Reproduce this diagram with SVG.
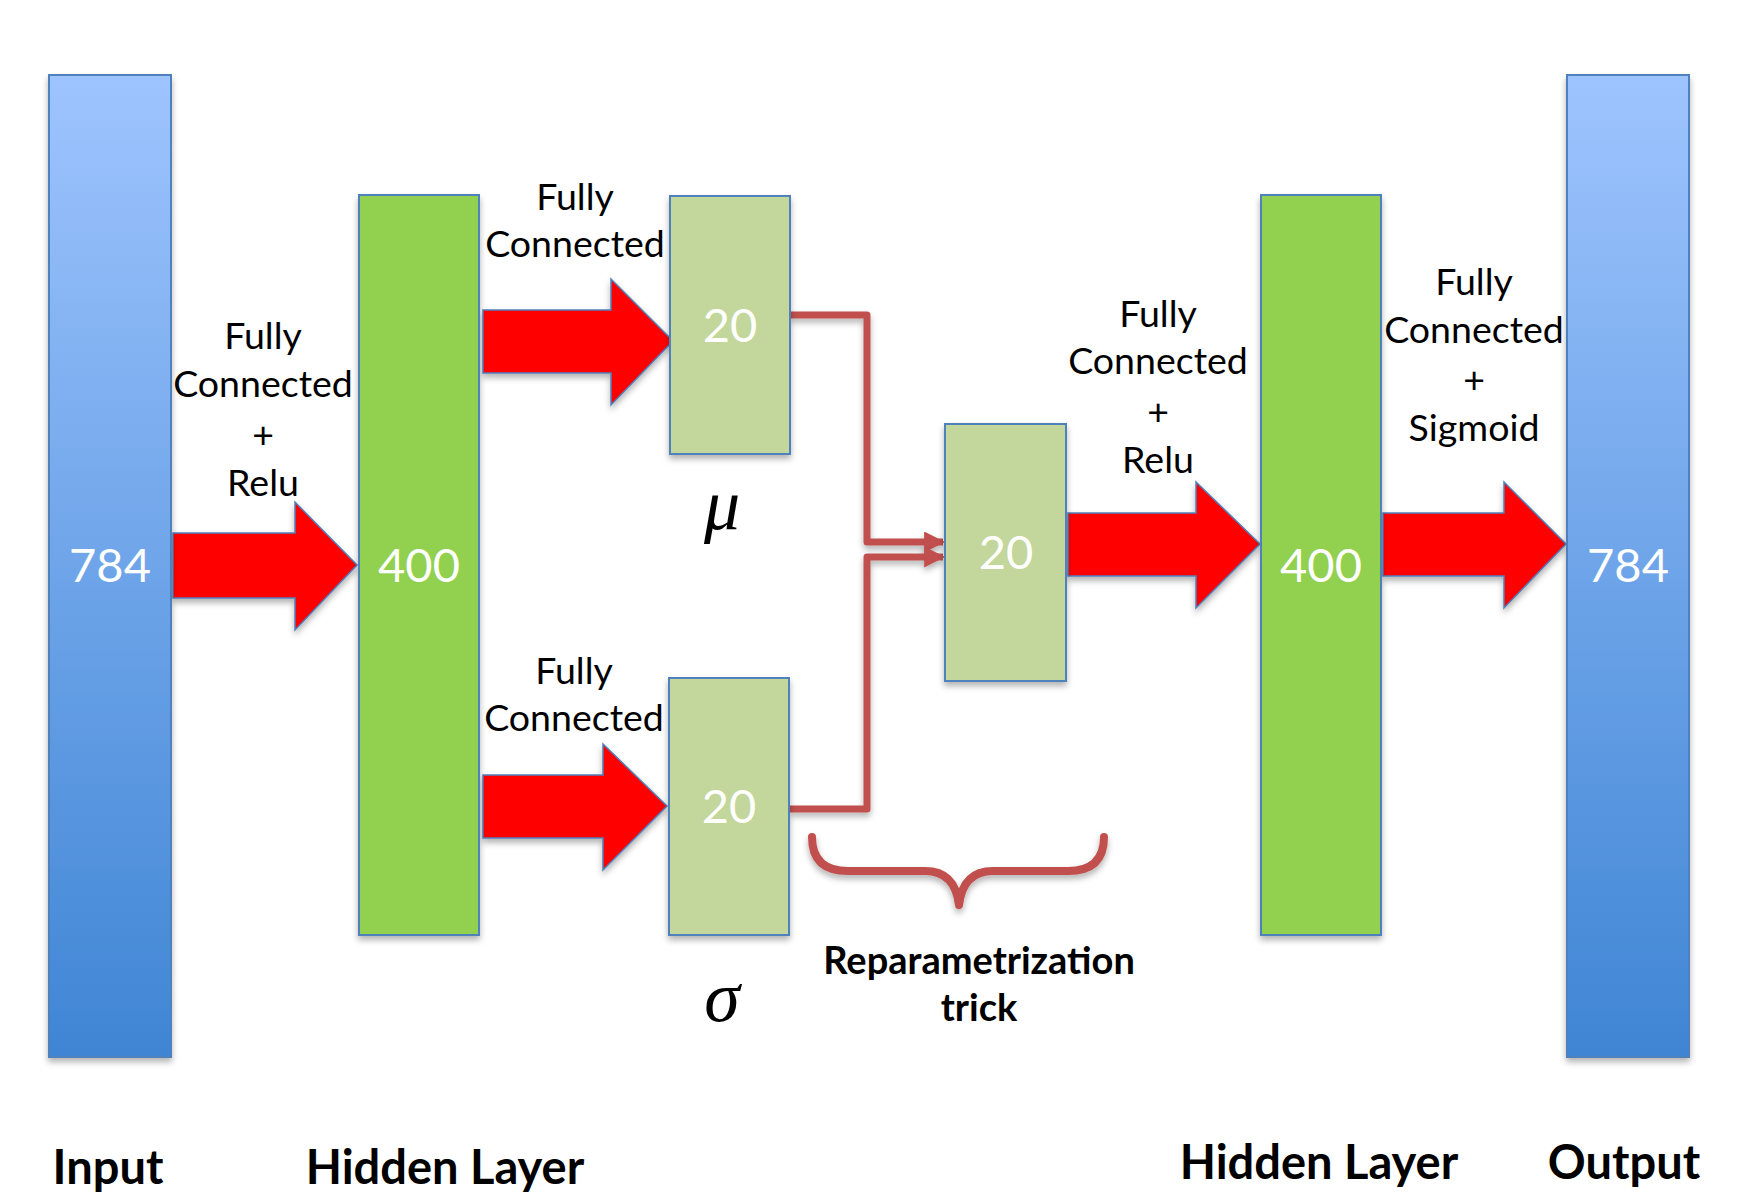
<svg xmlns="http://www.w3.org/2000/svg" width="1748" height="1198" viewBox="0 0 1748 1198">
<style>
.lbl{font-family:Lato,"Liberation Sans",sans-serif;font-size:37.5px;fill:#000;text-anchor:middle}
.num{font-family:Lato,"Liberation Sans",sans-serif;font-size:47px;fill:#fff;text-anchor:middle}
.bold{font-family:Lato,"Liberation Sans",sans-serif;font-weight:bold;fill:#000;text-anchor:middle}
.greek{font-family:"Liberation Serif",serif;font-style:italic;font-size:72px;fill:#000;text-anchor:middle}
.bar{stroke:#4F81BD;stroke-width:2;filter:url(#sh)}
.arrow{fill:#FF0000;stroke:#4F81BD;stroke-width:1.5;filter:url(#sh)}
.conn{fill:none;stroke:#C0504D;stroke-width:7;stroke-linejoin:round;filter:url(#sh)}
</style>
<defs>
<linearGradient id="blue" x1="0" y1="0" x2="0" y2="1">
<stop offset="0" stop-color="#9EC4FE"/>
<stop offset="1" stop-color="#3F85D4"/>
</linearGradient>
<filter id="sh" x="-20%" y="-20%" width="140%" height="140%">
<feDropShadow dx="0" dy="4" stdDeviation="3" flood-color="#000" flood-opacity="0.3"/>
</filter>
<marker id="ah" viewBox="0 0 10 10" refX="9" refY="5" markerWidth="4" markerHeight="3" markerUnits="strokeWidth" orient="auto">
<path d="M0,0 L10,5 L0,10 z" fill="#C0504D"/>
</marker>
</defs>
<rect width="1748" height="1198" fill="#fff"/>

<g id="connectors">
<polygon class="arrow" points="173,533 295,533 295,502 357,565 295,630 295,598 173,598"/>
<polygon class="arrow" points="483,310 611,310 611,279 673,341 611,405 611,373 483,373"/>
<polygon class="arrow" points="483,775 603,775 603,744 667,806 603,870 603,838 483,838"/>
<polygon class="arrow" points="1068,513 1196,513 1196,482 1260,544 1196,608 1196,576 1068,576"/>
<polygon class="arrow" points="1383,513 1504,513 1504,482 1566,544 1504,608 1504,576 1383,576"/>
<path class="conn" d="M790,315 L867,315 L867,542 L943,542" marker-end="url(#ah)"/>
<path class="conn" d="M790,809 L867,809 L867,557 L943,557" marker-end="url(#ah)"/>
<path d="M812,837 Q812,871 848,871 L925,871 Q955,871 959,905 Q963,871 993,871 L1068,871 Q1104,871 1104,837" fill="none" stroke="#C0504D" stroke-width="8" stroke-linecap="round" stroke-linejoin="round" filter="url(#sh)"/>
</g>

<g id="input">
<rect class="bar" x="49" y="75" width="122" height="982" fill="url(#blue)"/>
<text class="num" x="110" y="582">784</text>
</g>
<g id="hidden1">
<rect class="bar" x="359" y="195" width="120" height="740" fill="#92D050"/>
<text class="num" x="419" y="582">400</text>
</g>
<g id="mu">
<rect class="bar" x="670" y="196" width="120" height="258" fill="#C3D69B"/>
<text class="num" x="730" y="342">20</text>
</g>
<g id="sigma">
<rect class="bar" x="669" y="678" width="120" height="257" fill="#C3D69B"/>
<text class="num" x="729" y="823">20</text>
</g>
<g id="z">
<rect class="bar" x="945" y="424" width="121" height="257" fill="#C3D69B"/>
<text class="num" x="1006" y="569">20</text>
</g>
<g id="hidden2">
<rect class="bar" x="1261" y="195" width="120" height="740" fill="#92D050"/>
<text class="num" x="1321" y="582">400</text>
</g>
<g id="output">
<rect class="bar" x="1567" y="75" width="122" height="982" fill="url(#blue)"/>
<text class="num" x="1628" y="582">784</text>
</g>

<g id="labels">
<text class="lbl" x="263" y="349">Fully</text>
<text class="lbl" x="263" y="397">Connected</text>
<text class="lbl" x="263" y="448">+</text>
<text class="lbl" x="263" y="496">Relu</text>

<text class="lbl" x="575" y="210">Fully</text>
<text class="lbl" x="575" y="257">Connected</text>

<text class="lbl" x="574" y="684">Fully</text>
<text class="lbl" x="574" y="731">Connected</text>

<text class="lbl" x="1158" y="327">Fully</text>
<text class="lbl" x="1158" y="374">Connected</text>
<text class="lbl" x="1158" y="425">+</text>
<text class="lbl" x="1158" y="473">Relu</text>

<text class="lbl" x="1474" y="295">Fully</text>
<text class="lbl" x="1474" y="343">Connected</text>
<text class="lbl" x="1474" y="393">+</text>
<text class="lbl" x="1474" y="441">Sigmoid</text>

<text class="greek" x="722" y="529">μ</text>
<text class="greek" x="722" y="1021">σ</text>

<text class="bold" x="979" y="974" font-size="38">Reparametrization</text>
<text class="bold" x="979" y="1021" font-size="38">trick</text>

<text class="bold" x="108" y="1184" font-size="47">Input</text>
<text class="bold" x="445" y="1184" font-size="47">Hidden Layer</text>
<text class="bold" x="1319" y="1179" font-size="47">Hidden Layer</text>
<text class="bold" x="1624" y="1179" font-size="47">Output</text>
</g>
</svg>
